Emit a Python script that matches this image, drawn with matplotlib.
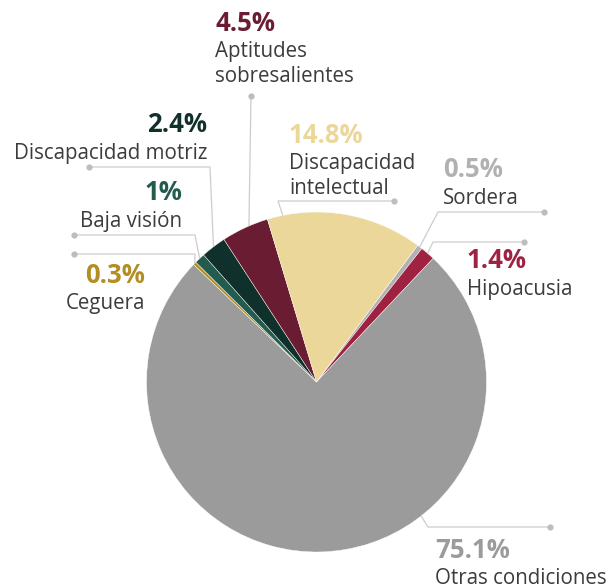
import numpy as np
import matplotlib
matplotlib.use("Agg")
import matplotlib.pyplot as plt

# ---------------- data ----------------
categories = ["Sordera", "Hipoacusia", "Otras condiciones", "Ceguera",
              "Baja visión", "Discapacidad motriz", "Aptitudes sobresalientes",
              "Discapacidad intelectual"]
values = [0.5, 1.4, 75.1, 0.3, 1.0, 2.4, 4.5, 14.8]
pct_labels = ["0.5%", "1.4%", "75.1%", "0.3%", "1%", "2.4%", "4.5%", "14.8%"]
name_lines = [["Sordera"], ["Hipoacusia"], ["Otras condiciones"], ["Ceguera"],
              ["Baja visión"], ["Discapacidad motriz"], ["Aptitudes", "sobresalientes"],
              ["Discapacidad", "intelectual"]]
colors = ["#b1b1b3", "#9f2241", "#9b9b9c", "#b38e22", "#235b4e", "#10312b",
          "#691c32", "#ecd79b"]

# ---------------- layout (pixel coords, y downwards) ----------------
W, H = 610, 588
CX, CY, R = 316.5, 382.0, 170
START = 53.5
# text anchor x, alignment, baseline of percentage
text_pos = [(443, "left", 177), (467, "left", 268), (435, "left", 558),
            (145, "right", 283), (182, "right", 200), (207, "right", 132),
            (215, "left", 31), (289, "left", 143)]
# leader: dot, elbow
leaders = [((544, 212), (438, 212)), ((524, 242), (433, 242)),
           ((550, 527), (428, 527)), ((74, 254), (195, 254)),
           ((74, 235), (195, 235)), ((89, 167), (210, 167)),
           ((251, 96), (251, 96)), ((394, 201), (278, 201))]
leader_frac = [0.5, 0.5, 0.365, 0.5, 0.5, 0.5, 0.59, 0.1]

plt.rcParams["font.family"] = ["Open Sans", "DejaVu Sans"]

fig = plt.figure(figsize=(W / 100, H / 100), dpi=100)
ax = fig.add_axes([0, 0, 1, 1])
ax.set_xlim(0, W)
ax.set_ylim(0, H)
ax.axis("off")


def Y(y):
    return H - y


wedges, _ = ax.pie(values, colors=colors, startangle=START, counterclock=False,
                   center=(CX, Y(CY)), radius=R, normalize=True,
                   wedgeprops=dict(edgecolor="white", linewidth=0.3))
ax.set_xlim(0, W)
ax.set_ylim(0, H)
ax.set_aspect("equal")

line_col = "#cccccc"
dot_col = "#bdbdbd"
text_col = "#3c3c3c"

for i, w in enumerate(wedges):
    # wedges drawn clockwise: theta2 is the starting edge
    t1, t2 = w.theta1, w.theta2
    ang = np.deg2rad(t2 - leader_frac[i] * (t2 - t1))
    ex = CX + R * np.cos(ang)
    ey = Y(CY) + R * np.sin(ang)
    (dx, dy), (kx, ky) = leaders[i]
    ax.plot([dx, kx, ex], [Y(dy), Y(ky), ey], color=line_col, lw=0.9,
            solid_capstyle="butt", zorder=3)
    ax.plot([dx], [Y(dy)], "o", color=dot_col, ms=4.5, mec="none", zorder=4)

    tx, ha, base = text_pos[i]
    ax.text(tx, Y(base), pct_labels[i], ha=ha, va="baseline", color=colors[i],
            fontsize=18.5, fontweight="bold", zorder=5)
    for j, line in enumerate(name_lines[i]):
        ax.text(tx, Y(base + 26.5 + 24 * j), line, ha=ha, va="baseline",
                color=text_col, fontsize=14.8, zorder=5)

fig.savefig("out.png", dpi=100)
